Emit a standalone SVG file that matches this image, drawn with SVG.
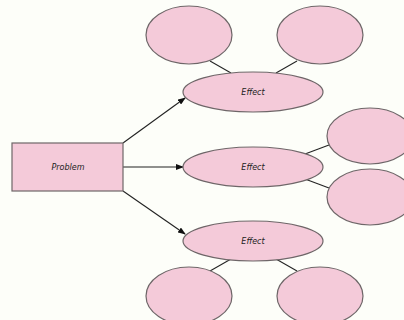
<svg xmlns="http://www.w3.org/2000/svg" width="404" height="320" viewBox="0 0 404 320">
<style>
.n{fill:#f4cad9;stroke:#6e6668;stroke-width:1.2}
.t{font-family:"DejaVu Sans",sans-serif;font-style:italic;font-size:8px;fill:#222;text-anchor:middle}
.c{stroke:#222;stroke-width:1.1;fill:none}
.a{marker-end:url(#ah)}
</style>
<defs>
<marker id="ah" markerWidth="8" markerHeight="6" refX="7" refY="3" orient="auto" markerUnits="userSpaceOnUse">
<path d="M0,0 L8,3 L0,6 z" fill="#111"/>
</marker>
</defs>
<rect width="404" height="320" fill="#fdfef9"/>
<g id="connectors">
<line class="c a" x1="123" y1="143" x2="185" y2="98"/>
<line class="c a" x1="123" y1="167" x2="183" y2="167"/>
<line class="c a" x1="123" y1="191" x2="185" y2="234"/>
<line class="c" x1="210" y1="61" x2="231" y2="73"/>
<line class="c" x1="297" y1="61" x2="276" y2="73"/>
<line class="c" x1="305" y1="154" x2="329" y2="145"/>
<line class="c" x1="305" y1="179" x2="329" y2="188"/>
<line class="c" x1="210" y1="271" x2="231" y2="259"/>
<line class="c" x1="297" y1="271" x2="276" y2="259"/>
</g>
<g id="problem">
<rect class="n" x="12" y="143" width="111" height="48"/>
<text class="t" x="68" y="170">Problem</text>
</g>
<g id="effect1">
<ellipse class="n" cx="253" cy="92" rx="70" ry="20"/>
<text class="t" x="253" y="95">Effect</text>
</g>
<g id="effect2">
<ellipse class="n" cx="253" cy="167" rx="70" ry="20"/>
<text class="t" x="253" y="170">Effect</text>
</g>
<g id="effect3">
<ellipse class="n" cx="253" cy="241" rx="70" ry="20"/>
<text class="t" x="253" y="244">Effect</text>
</g>
<g id="c1"><ellipse class="n" cx="189" cy="35" rx="43" ry="29"/></g>
<g id="c2"><ellipse class="n" cx="320" cy="35" rx="43" ry="29"/></g>
<g id="c3"><ellipse class="n" cx="370" cy="136" rx="43" ry="28"/></g>
<g id="c4"><ellipse class="n" cx="370" cy="197" rx="43" ry="28"/></g>
<g id="c5"><ellipse class="n" cx="189" cy="296" rx="43" ry="29"/></g>
<g id="c6"><ellipse class="n" cx="320" cy="296" rx="43" ry="29"/></g>
</svg>
